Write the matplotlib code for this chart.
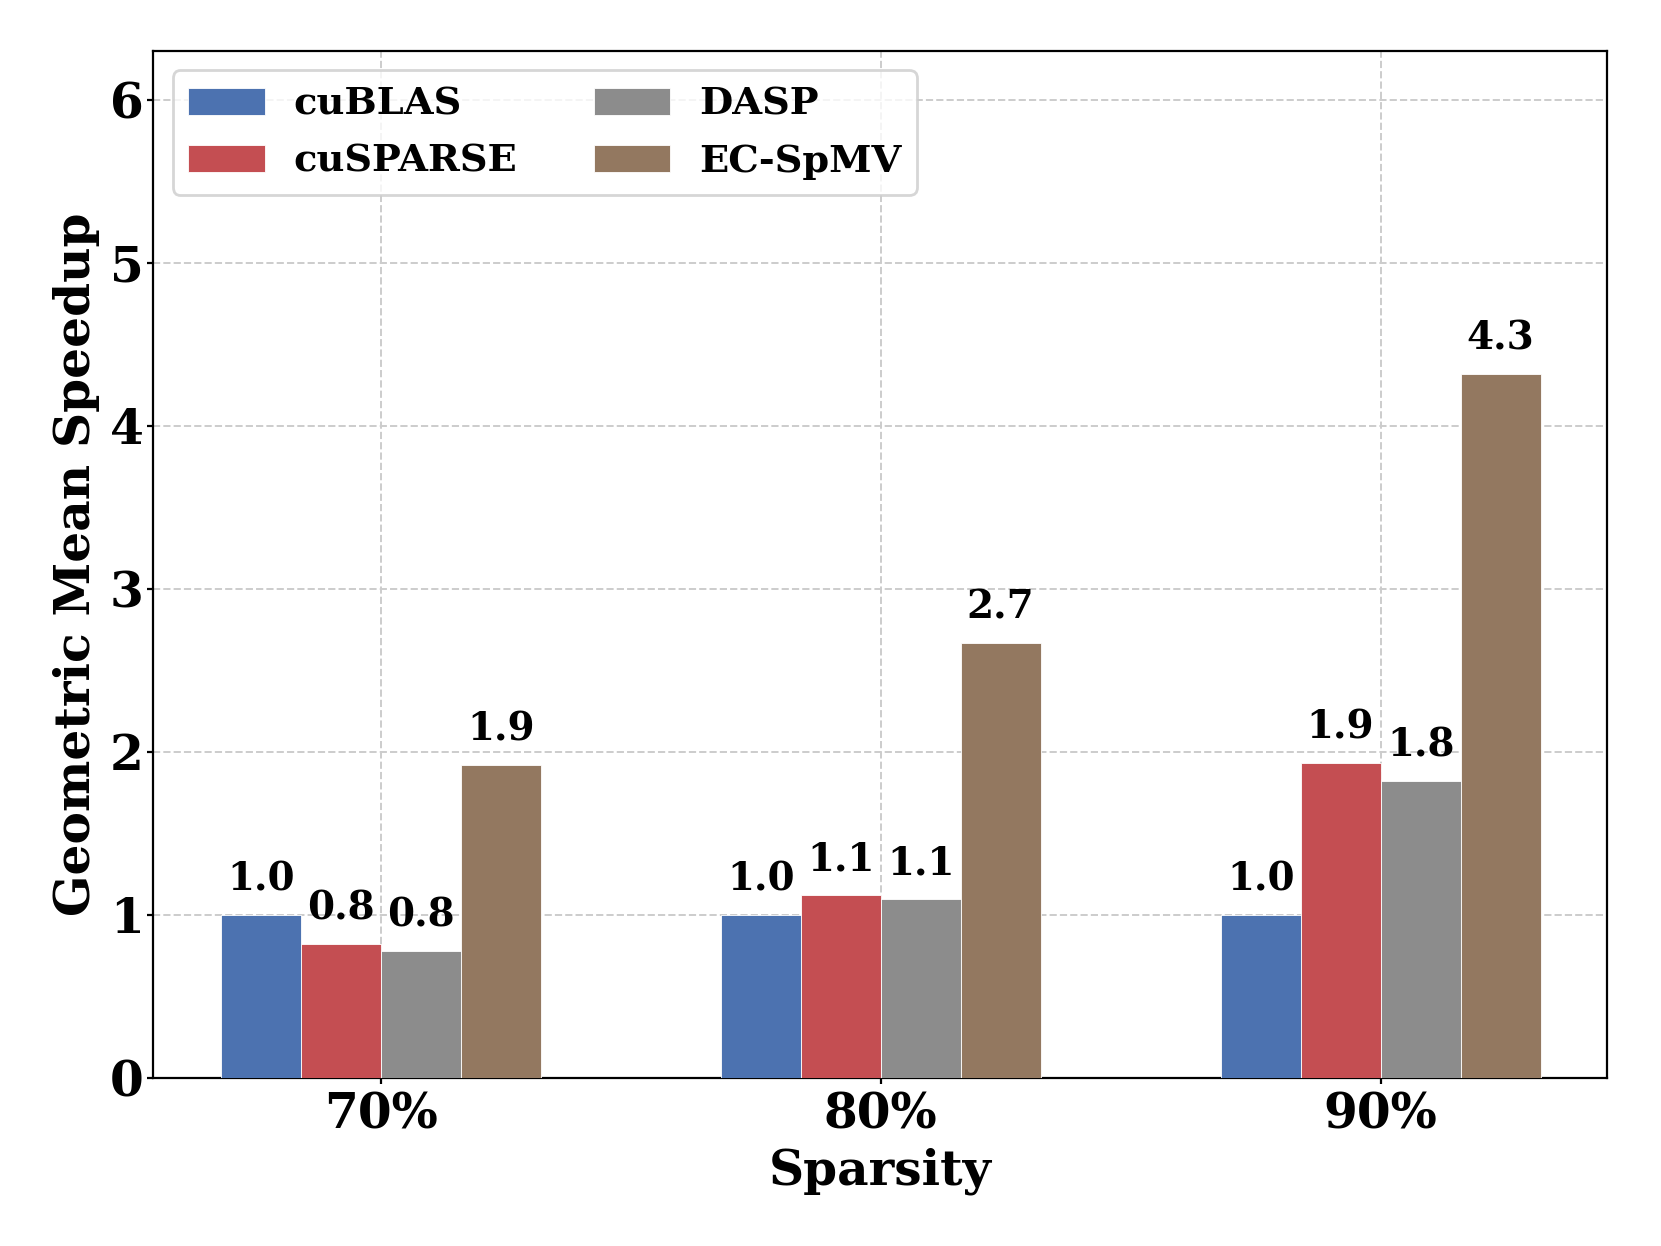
import numpy as np
import matplotlib
matplotlib.use("Agg")
import matplotlib.pyplot as plt

plt.rcParams['font.family'] = ['DejaVu Serif']
plt.rcParams['font.weight'] = 'bold'

sparsity = ['70%', '80%', '90%']
methods = ['cuBLAS', 'cuSPARSE', 'DASP', 'EC-SpMV']
cublas = [1.0, 1.0, 1.0]
cusparse = [0.82, 1.12, 1.93]
dasp = [0.78, 1.10, 1.82]
ecspmv = [1.92, 2.67, 4.32]
colors = ['#4C72B0', '#C44E52', '#8C8C8C', '#937860']

series = [cublas, cusparse, dasp, ecspmv]
x = np.arange(len(sparsity))
width = 0.16

fig, ax = plt.subplots(figsize=(8.305, 6.23), dpi=200)
fig.subplots_adjust(left=0.0924, right=0.9675, top=0.959, bottom=0.135)

for i, (name, vals) in enumerate(zip(methods, series)):
    bars = ax.bar(x + (i - 1.5) * width, vals, width, label=name,
                  color=colors[i], edgecolor='white', linewidth=0.3, zorder=3)
    for b, v in zip(bars, vals):
        ax.text(b.get_x() + b.get_width() / 2, v + 0.1, f'{v:.1f}',
                ha='center', va='bottom', fontsize=14, fontweight='bold',
                zorder=4)

ax.set_xlim(-0.455, 2.453)
ax.set_ylim(0, 6.3)
ax.set_xticks(x)
ax.set_xticklabels(sparsity, fontsize=17.5, fontweight='bold')
ax.set_yticks(range(7))
ax.tick_params(axis='y', labelsize=17.5, length=2, pad=1.5)
ax.tick_params(axis='x', length=2, pad=3)
ax.set_xlabel('Sparsity', fontsize=17.5, fontweight='bold', labelpad=3)
ax.set_ylabel('Geometric Mean Speedup', fontsize=17.5, fontweight='bold', labelpad=3.5)
ax.grid(True, linestyle='--', color='#cccccc', linewidth=0.7, zorder=0)
ax.set_axisbelow(True)

ax.legend(loc='upper left', ncol=2, fontsize=13.8, frameon=True,
          handlelength=2.0, handleheight=0.7, handletextpad=0.75,
          columnspacing=2.0, borderpad=0.4, labelspacing=0.52,
          borderaxespad=0.5)

fig.savefig('out.png', dpi=200)
